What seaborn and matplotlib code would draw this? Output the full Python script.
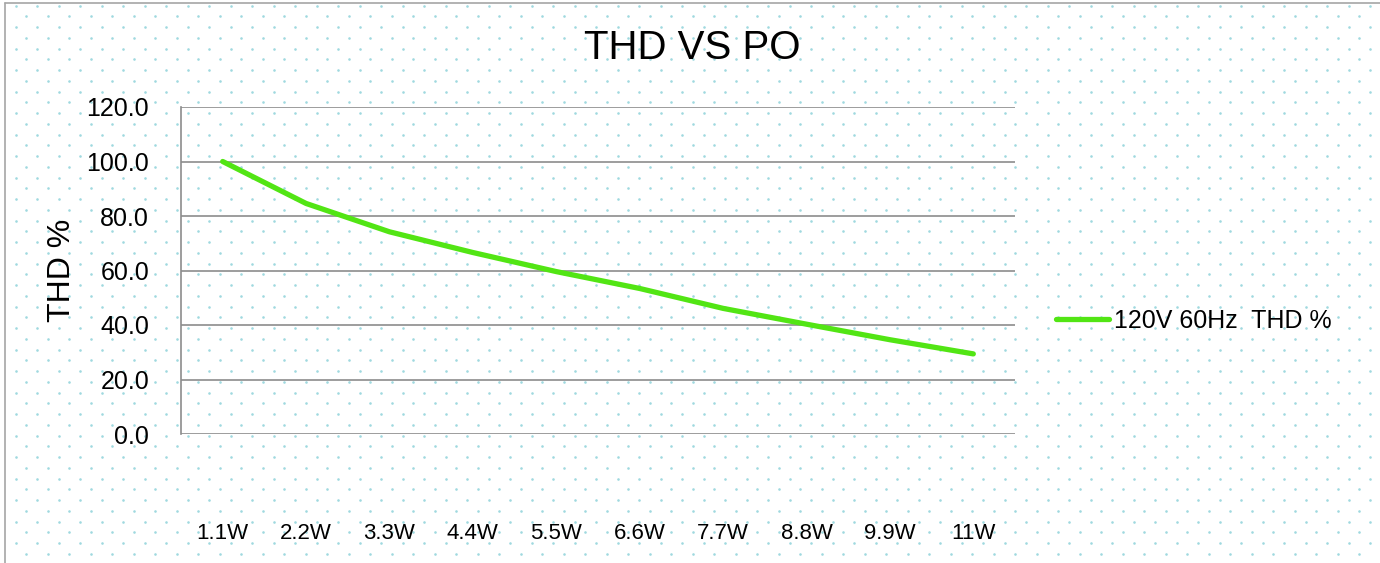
import numpy as np
import pandas as pd
import seaborn as sns
import matplotlib.pyplot as plt

# данные
power = ["1.1W", "2.2W", "3.3W", "4.4W", "5.5W", "6.6W", "7.7W", "8.8W", "9.9W", "11W"]
thd = [100.0, 84.6, 74.2, 66.6, 59.6, 53.4, 46.1, 40.3, 34.6, 29.4]
series_name = "120V 60Hz  THD %"
y_ticks = [0, 20, 40, 60, 80, 100, 120]

df = pd.DataFrame({"po": power, "thd": thd, "series": series_name})

sns.set_style("white")
plt.rcParams["font.family"] = ["Liberation Sans", "DejaVu Sans"]
plt.rcParams["text.color"] = "black"
plt.rcParams["axes.labelcolor"] = "black"
plt.rcParams["xtick.color"] = "black"
plt.rcParams["ytick.color"] = "black"

W, H = 1380, 563
fig = plt.figure(figsize=(W / 100, H / 100), dpi=100)

# фон: точечный узор и рамка
bg = fig.add_axes([0, 0, 1, 1], zorder=-1)
bg.set_xlim(0, W)
bg.set_ylim(H, 0)
bg.axis("off")
xs, ys = [], []
for i, yy in enumerate(np.arange(5.5, H, 10.75)):
    off = 0 if i % 2 == 0 else 10.75
    for xx in np.arange(15.5 + off, W, 21.5):
        xs.append(xx)
        ys.append(yy)
bg.scatter(xs, ys, s=3.5, color="#9fd9df", linewidths=0)
bg.plot([5, 5], [3, H], color="#a6a6a6", lw=1.2)
bg.plot([5, W], [3, 3], color="#a6a6a6", lw=1.2)

ax = fig.add_axes([181 / W, 1 - 434 / H, (1015 - 181) / W, (434 - 107) / H])
ax.set_facecolor("none")

sns.lineplot(data=df, x="po", y="thd", hue="series", sort=False,
             palette=["#52e514"], linewidth=3.8, ax=ax, legend=True)
for l in ax.get_lines():
    l.set_solid_capstyle("round")
    l.set_solid_joinstyle("round")

ax.set_xlim(-0.5, len(power) - 0.5)
ax.set_ylim(0, 120)
ax.set_yticks(y_ticks)
ax.set_yticklabels([f"{v:.1f}" for v in y_ticks])
ax.grid(axis="y", color="#8c8c8c", linewidth=1.2)
ax.set_axisbelow(True)
for s in ["top", "right", "bottom"]:
    ax.spines[s].set_visible(False)
ax.spines["left"].set_color("#8c8c8c")
ax.spines["left"].set_linewidth(1.2)
ax.tick_params(axis="y", length=0, pad=23, labelsize=18)
ax.tick_params(axis="x", length=0, pad=64, labelsize=16)

ax.set_xlabel("")
ax.set_ylabel("THD %", fontsize=23)
ax.yaxis.set_label_coords(-0.125, 0.5)

fig.text(692 / W, 1 - 48 / H, "THD VS PO", ha="center", va="center", fontsize=29)

ax.legend(loc="center left", bbox_to_anchor=(1056 / W, 1 - 321 / H),
          bbox_transform=fig.transFigure, frameon=False, fontsize=18,
          handlelength=2.1, handletextpad=0.2, borderpad=0, borderaxespad=0)

plt.savefig("out.png", dpi=100)
